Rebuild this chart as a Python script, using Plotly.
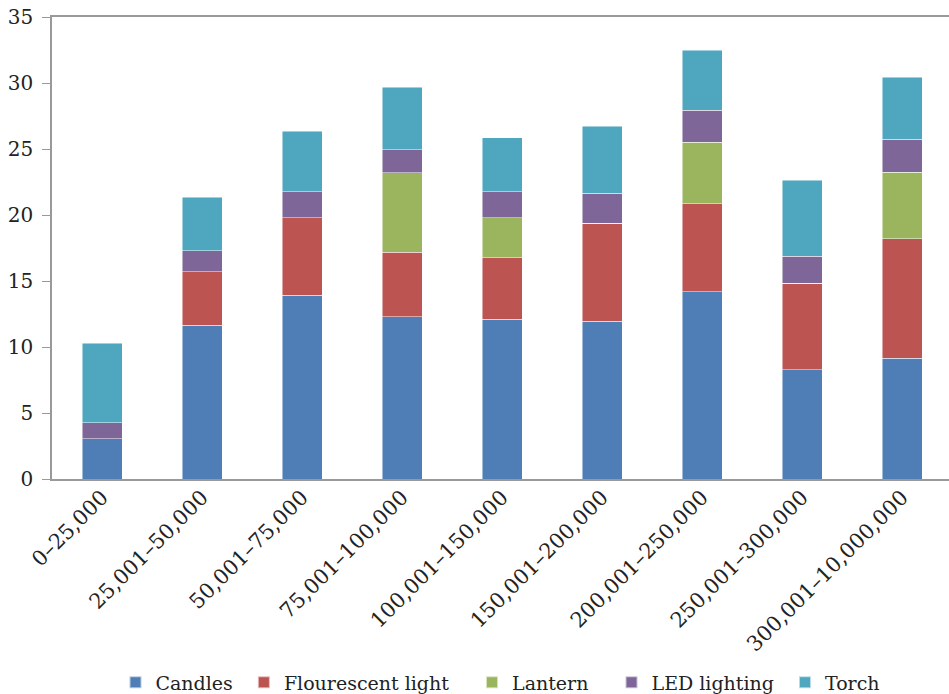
import plotly.graph_objects as go

categories = ["0–25,000", "25,001–50,000", "50,001–75,000", "75,001–100,000",
              "100,001–150,000", "150,001–200,000", "200,001–250,000",
              "250,001–300,000", "300,001–10,000,000"]
candles = [3.06, 11.65, 13.92, 12.31, 12.10, 11.95, 14.18, 8.26, 9.15]
flourescent = [0, 4.07, 5.89, 4.87, 4.68, 7.43, 6.67, 6.57, 9.07]
lantern = [0, 0, 0, 6.02, 3.01, 0, 4.67, 0, 5.01]
led = [1.21, 1.59, 1.97, 1.74, 1.99, 2.28, 2.41, 2.05, 2.50]
torch = [6.02, 4.04, 4.55, 4.75, 4.07, 5.05, 4.57, 5.76, 4.72]
series_names = ["Candles", "Flourescent light", "Lantern", "LED lighting", "Torch"]

colors = ["#4F7EB6", "#BC5552", "#9BB55E", "#7F6699", "#4EA6BF"]
values = [candles, flourescent, lantern, led, torch]
pads = [1, 3, 3, 1, 0]

font = "DejaVu Serif"
fig = go.Figure()
for name, vals, col, p in zip(series_names, values, colors, pads):
    label = name + "\u00a0" * p
    fig.add_trace(go.Bar(x=categories, y=vals, name=label,
                         marker=dict(color=col, line=dict(color="rgba(255,255,255,0.6)", width=0.8))))

fig.update_layout(
    barmode="stack", bargap=0.6,
    width=949, height=694,
    margin=dict(l=52, r=0, t=17, b=215, autoexpand=False),
    plot_bgcolor="white", paper_bgcolor="white",
    font=dict(family=font, size=19, color="#222"),
    showlegend=True,
    legend=dict(orientation="h", x=0.5, xanchor="center", y=-0.44, yanchor="middle",
                font=dict(size=19), itemsizing="constant", traceorder="normal",
                itemwidth=30),
)
fig.update_xaxes(range=[-0.5, 8.47], showline=True, linecolor="#999", linewidth=1.5,
                 mirror=True, ticks="", tickangle=-45, tickfont=dict(size=21),
                 showgrid=False, automargin=False, ticklabelstandoff=-4)
fig.update_yaxes(range=[0, 35], dtick=5, showline=True, linecolor="#999", linewidth=1.5,
                 ticks="outside", ticklen=8, tickcolor="#999", showgrid=False,
                 zeroline=False, tickfont=dict(size=20), automargin=False,
                 ticklabelstandoff=5)
fig.write_html("out.html", config={"displayModeBar": False},
               post_script="document.body.style.margin='0';document.body.style.padding='0';")
